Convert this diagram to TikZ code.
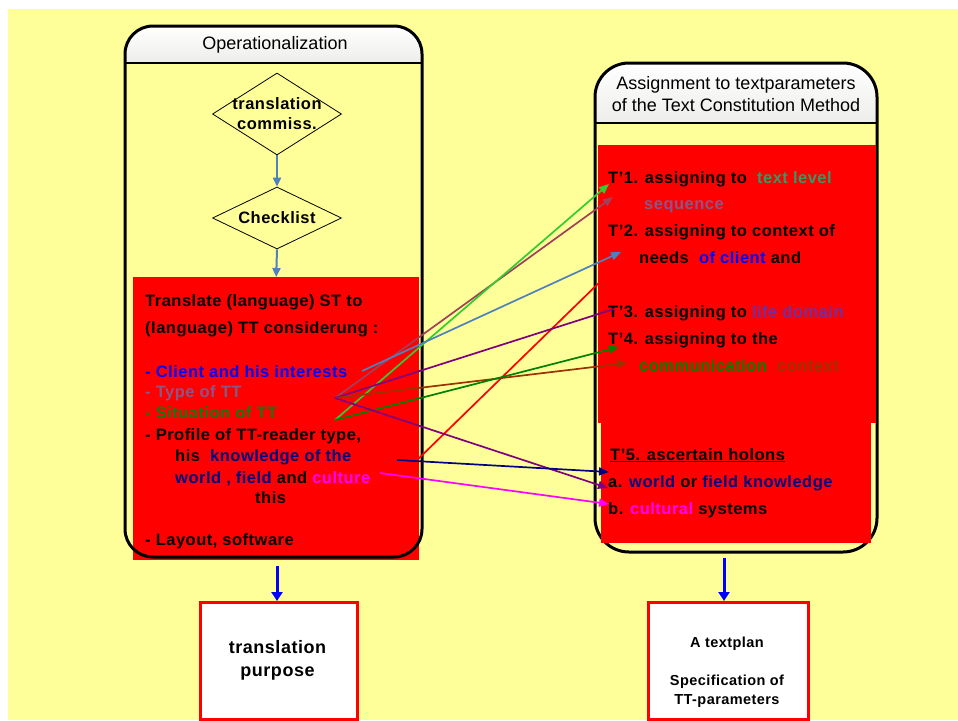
\documentclass[tikz,border=0pt]{standalone}
\usepackage{fontspec}
\setmainfont{Liberation Sans}
\newfontfamily\spbf{Liberation Sans}[LetterSpace=3]
\usetikzlibrary{arrows.meta,shapes.geometric}
\definecolor{paper}{HTML}{FFFF99}
\definecolor{steel}{HTML}{4F81BD}
\definecolor{plum}{RGB}{140,85,135}
\definecolor{sitgreen}{HTML}{127A12}
\definecolor{seagreen}{HTML}{339966}
\definecolor{lgreen}{HTML}{33CC33}
\definecolor{maroonline}{HTML}{A0405A}
\definecolor{purp}{HTML}{800080}
\definecolor{lifepurp}{HTML}{7030A0}
\definecolor{dgreen}{HTML}{008000}
\definecolor{brownish}{HTML}{993300}
\definecolor{navyblue}{HTML}{000080}
\definecolor{pinkmag}{HTML}{FF00FF}
\definecolor{headgray}{HTML}{EDEDEB}
\tikzset{
  bodytxt/.style={anchor=base west, inner sep=0pt, font=\spbf\bfseries\fontsize{16.5}{19}\selectfont},
  headtxt/.style={inner sep=0pt, font=\fontsize{18}{22}\selectfont, align=center},
  decision/.style={diamond, draw=black, line width=0.8pt, inner sep=0pt},
  flowarrow/.style={draw=steel, line width=2pt, -{Triangle[length=9pt,width=8pt]}},
  linkline/.style={line width=1.7pt},
  linkarrow/.style={line width=1.7pt, -{Triangle[length=10pt,width=8pt]}},
  outarrow/.style={draw=blue, line width=3pt, -{Triangle[length=9pt,width=11pt]}},
  resultbox/.style={draw=red, line width=3pt, fill=white, inner sep=0pt, anchor=north west},
  container/.style={draw=black, line width=3pt},
}
\begin{document}
\begin{tikzpicture}[x=1pt,y=-1pt]
\useasboundingbox (0,0) rectangle (958,720);
\fill[white] (0,0) rectangle (958,720);
\fill[paper] (8,9) rectangle (958,720);

% ---------- left column: Operationalization ----------
\begin{scope}
  \clip[rounded corners=28pt] (125,26) rectangle (422,557);
  \shade[top color=white, bottom color=headgray] (125,26) rectangle (422,63);
\end{scope}
\node[fill=red, inner sep=0pt, minimum width=286pt, minimum height=283pt, anchor=north west] (lred) at (133,277) {};
\draw[container, rounded corners=28pt] (125,26) rectangle (422,557);
\draw[line width=2pt] (125,63) -- (422,63);
\node[headtxt] (lhead) at (275,45) {Operationalization};

\node[decision, minimum width=129pt, minimum height=82pt] (d1) at (277,114) {};
\node[font=\spbf\bfseries\fontsize{16.5}{20}\selectfont, align=center, inner sep=0pt] (d1t) at (d1.center) {translation\\commiss.};
\node[decision, minimum width=129pt, minimum height=62pt] (d2) at (277,218) {};
\node[font=\spbf\bfseries\fontsize{16.5}{20}\selectfont, inner sep=0pt] (d2t) at (d2.center) {Checklist};
\draw[flowarrow] (d1.south) -- (d2.north);
\draw[flowarrow] (d2.south) -- (lred.north);

\node[bodytxt] (l1) at (145,306) {Translate (language) ST to};
\node[bodytxt] (l2) at (145,333) {(language) TT considerung :};
\node[bodytxt, text=blue] (l3) at (145,377) {- Client and his interests};
\node[bodytxt, text=plum] (l4) at (145,397) {- Type of TT};
\node[bodytxt, text=sitgreen] (l5) at (145,418) {- Situation of TT};
\node[bodytxt] (l6) at (145,440) {- Profile of TT-reader type,};
\node[bodytxt] (l7) at (175,461) {his\ \ \textcolor{navyblue}{knowledge of the}};
\node[bodytxt] (l8) at (175,483) {\textcolor{navyblue}{world , field} and \textcolor{pinkmag}{culture}};
\node[bodytxt] (l9) at (255,503) {this};
\node[bodytxt] (l10) at (145,545) {- Layout, software};

% ---------- right column: text parameters ----------
\begin{scope}
  \clip[rounded corners=34pt] (595,63) rectangle (877,552);
  \shade[top color=white, bottom color=headgray] (595,63) rectangle (877,123);
\end{scope}
\draw[container, rounded corners=34pt] (595,63) rectangle (877,552);
\draw[line width=2pt] (595,123) -- (877,123);
\node[headtxt] (rhead) at (736,94) {Assignment to textparameters\\of the Text Constitution Method};
\node[fill=red, inner sep=0pt, minimum width=278pt, minimum height=278pt, anchor=north west] (rred) at (598,145) {};
\node[fill=red, inner sep=0pt, minimum width=270pt, minimum height=121pt, anchor=north west] (rred2) at (601,422) {};

\node[bodytxt] (r1) at (608,183) {T’1. assigning to\ \ \textcolor{seagreen}{text level}};
\node[bodytxt, text=plum] (r1b) at (644,209) {sequence};
\node[bodytxt] (r2) at (608,236) {T’2. assigning to context of};
\node[bodytxt] (r2b) at (639,263) {needs\ \ \textcolor{blue}{of client} and};
\node[bodytxt] (r3) at (608,317) {T’3. assigning to \textcolor{lifepurp}{life domain}};
\node[bodytxt] (r4) at (608,344) {T’4. assigning to the};
\node[bodytxt] (r4b) at (639,371) {\textcolor{dgreen}{communication}\ \ \textcolor{brownish}{context}};
\node[bodytxt] (r5) at (610,460) {\underline{T’5. ascertain holons}};
\node[bodytxt] (r5a) at (608,487) {a. \textcolor{navyblue}{world} or \textcolor{navyblue}{field knowledge}};
\node[bodytxt] (r5b) at (608,514) {b. \textcolor{pinkmag}{cultural} systems};

% ---------- connectors between the columns ----------
\coordinate (sClient) at (362,371);
\coordinate (sType) at (335,398);
\coordinate (sSit) at (335,420);
\coordinate (sKnow) at (397,460);
\coordinate (sCult) at (380,473);
\coordinate (sRed) at (412,465);
\coordinate (tLevel) at (609,184);
\coordinate (tSeq) at (613,197);
\coordinate (tClient) at (621,252);
\coordinate (tRed) at (606,276);
\coordinate (tLife) at (614,309);
\coordinate (tComm) at (619,347);
\coordinate (tCont) at (627,363);
\coordinate (tWorld) at (609,472);
\coordinate (tField) at (608,488);
\coordinate (tCultural) at (609,504);

\draw[linkline, red] (sRed) -- (tRed);
\draw[linkarrow, maroonline] (sType) -- (tSeq);
\draw[linkarrow, lgreen] (sSit) -- (tLevel);
\draw[linkarrow, steel] (sClient) -- (tClient);
\draw[linkline, purp] (sType) -- (tLife);
\draw[linkarrow, brownish] (sType) -- (tCont);
\draw[linkarrow, dgreen] (sSit) -- (tComm);
\draw[linkarrow, purp] (sType) -- (tField);
\draw[linkarrow, navyblue] (sKnow) -- (tWorld);
\draw[linkarrow, pinkmag] (sCult) -- (tCultural);

% ---------- results ----------
\node[resultbox, minimum width=157pt, minimum height=117pt] (purpose) at (199,601) {};
\node[font=\spbf\bfseries\fontsize{18}{23}\selectfont, align=center, inner sep=0pt] (purposet) at (277.5,660) {translation\\purpose};
\node[resultbox, minimum width=160pt, minimum height=117pt] (plan) at (647,601) {};
\node[font=\spbf\bfseries\fontsize{14.5}{19}\selectfont, align=center, inner sep=0pt] (plant) at (727,672) {A textplan\\[19pt]Specification of\\TT-parameters};

\coordinate (lOut) at (277,566);
\coordinate (rOut) at (724,558);
\draw[outarrow] (lOut) -- (purpose.north -| lOut);
\draw[outarrow] (rOut) -- (plan.north -| rOut);
\end{tikzpicture}
\end{document}
